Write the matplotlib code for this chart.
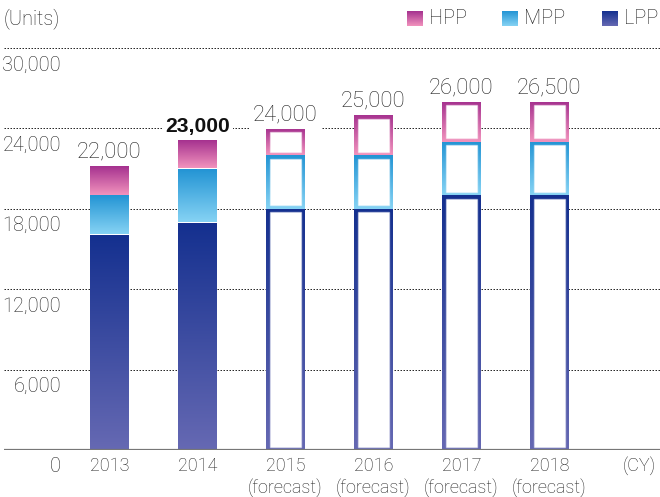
import numpy as np
import matplotlib
matplotlib.use("Agg")
import matplotlib.pyplot as plt
from matplotlib import transforms
from matplotlib.patches import Rectangle
from matplotlib.colors import to_rgb

# ---- data ----
years = ["2013", "2014", "2015", "2016", "2017", "2018"]
year_labels = ["2013", "2014", "2015\n(forecast)", "2016\n(forecast)",
               "2017\n(forecast)", "2018\n(forecast)"]
lpp = [16100, 17050, 18000, 18000, 19000, 19000]
mpp = [2950, 4000, 4000, 4000, 4000, 4000]
hpp = [2150, 2050, 2000, 3000, 3000, 3000]
total_labels = ["22,000", "23,000", "24,000", "25,000", "26,000", "26,500"]
forecast = [False, False, True, True, True, True]
bold_label = [False, True, False, False, False, False]
y_ticks = [0, 6000, 12000, 18000, 24000, 30000]
y_tick_labels = ["0", "6,000", "12,000", "18,000", "24,000", "30,000"]
series_names = ["HPP", "MPP", "LPP"]

# gradient colours (top, bottom)
grad_cols = {
    "HPP": ("#a5318f", "#f293bd"),
    "MPP": ("#2394d4", "#86d3f4"),
    "LPP": ("#14308f", "#6669b3"),
}

FONT = ["Roboto", "DejaVu Sans"]
BOLD_FONT = ["Liberation Sans", "DejaVu Sans"]
plt.rcParams["font.family"] = FONT
TXT = "#222222"
W, H, DPI = 660, 497, 100

fig = plt.figure(figsize=(W / DPI, H / DPI), dpi=DPI)
ax = fig.add_axes([4 / W, 47 / H, 656 / W, 402 / H])

x = np.arange(len(years))
step_px = 88.0
x_left = (4 - 109.5) / step_px
x_right = (660 - 109.5) / step_px
ymax = 30000
px_x = 1 / step_px              # data units per pixel (x)
px_y = ymax / 402.0             # data units per pixel (y)
bw = 38.5 / step_px


def gradient(top, bot, n=256):
    t = np.linspace(0, 1, n)[:, None, None]
    a = np.array(to_rgb(top))[None, None, :]
    b = np.array(to_rgb(bot))[None, None, :]
    return (1 - t) * a + t * b


for i in range(len(years)):
    segs = [("LPP", lpp[i]), ("MPP", mpp[i]), ("HPP", hpp[i])]
    base = 0
    for k, (name, v) in enumerate(segs):
        y0, y1 = base, base + v
        top_gap = 0 if (forecast[i] or k == len(segs) - 1) else 1.5 * px_y
        ax.imshow(gradient(*grad_cols[name]),
                  extent=(x[i] - bw / 2, x[i] + bw / 2, y0, y1 - top_gap),
                  origin="upper", aspect="auto", interpolation="bilinear",
                  zorder=3)
        if forecast[i]:
            bx, by = 3.5 * px_x, 3.5 * px_y
            ax.add_patch(Rectangle((x[i] - bw / 2 + bx, y0 + by),
                                   bw - 2 * bx, v - 2 * by,
                                   facecolor="white",
                                   edgecolor=(1, 1, 1, 0.45), lw=1.0,
                                   zorder=4))
        base = y1
    total = base
    ax.annotate(total_labels[i], xy=(x[i], total), xytext=(0, 5.8),
                textcoords="offset points", ha="center", va="baseline",
                fontsize=15.2 if bold_label[i] else 15.8,
                color="#111111" if bold_label[i] else TXT,
                fontweight="bold" if bold_label[i] else "light",
                family=BOLD_FONT if bold_label[i] else FONT,
                bbox=dict(boxstyle="square,pad=0.15", fc="white", ec="none"),
                zorder=5)

# gridlines (fine dots)
for v in y_ticks[1:]:
    ax.axhline(v, color="#2a2a2a", lw=0.72, ls=(0, (1.5, 1.5)), zorder=1)
ax.axhline(0, color="#777777", lw=1.6, zorder=6)

ax.set_xlim(x_left, x_right)
ax.set_ylim(0, ymax)
for s in ax.spines.values():
    s.set_visible(False)
ax.set_yticks([])
ax.set_xticks(x, labels=year_labels)
ax.tick_params(axis="x", length=0, pad=5, labelsize=13, labelcolor=TXT)
for lab in ax.get_xticklabels():
    lab.set_fontweight("light")

# y tick labels, placed under each gridline
ytrans = transforms.offset_copy(
    transforms.blended_transform_factory(fig.transFigure, ax.transData),
    fig=fig, x=0, y=-17, units="dots")
for v, lab in zip(y_ticks, y_tick_labels):
    ax.text(61 / W, v, lab, transform=ytrans, ha="right", va="center",
            fontsize=14.3, color=TXT, fontweight="light", clip_on=False)

# overlay for legend and captions (pixel coordinates)
ov = fig.add_axes([0, 0, 1, 1], zorder=10)
ov.set_xlim(0, W)
ov.set_ylim(H, 0)
ov.axis("off")
ov.patch.set_alpha(0)

ov.text(4, 19, "(Units)", ha="left", va="center", fontsize=14.3,
        color=TXT, fontweight="light")
ov.text(656, 466, "(CY)", ha="right", va="center", fontsize=13,
        color=TXT, fontweight="light")

leg_x = [407, 502, 602]
for name, lx in zip(series_names, leg_x):
    ov.imshow(gradient(*grad_cols[name]), extent=(lx, lx + 16, 26, 11),
              origin="upper", aspect="auto", interpolation="bilinear")
    ov.text(lx + 22, 18.5, name, ha="left", va="center", fontsize=14.3,
            color=TXT, fontweight="light")
ov.set_xlim(0, W)
ov.set_ylim(H, 0)

fig.savefig("out.png", dpi=DPI)
